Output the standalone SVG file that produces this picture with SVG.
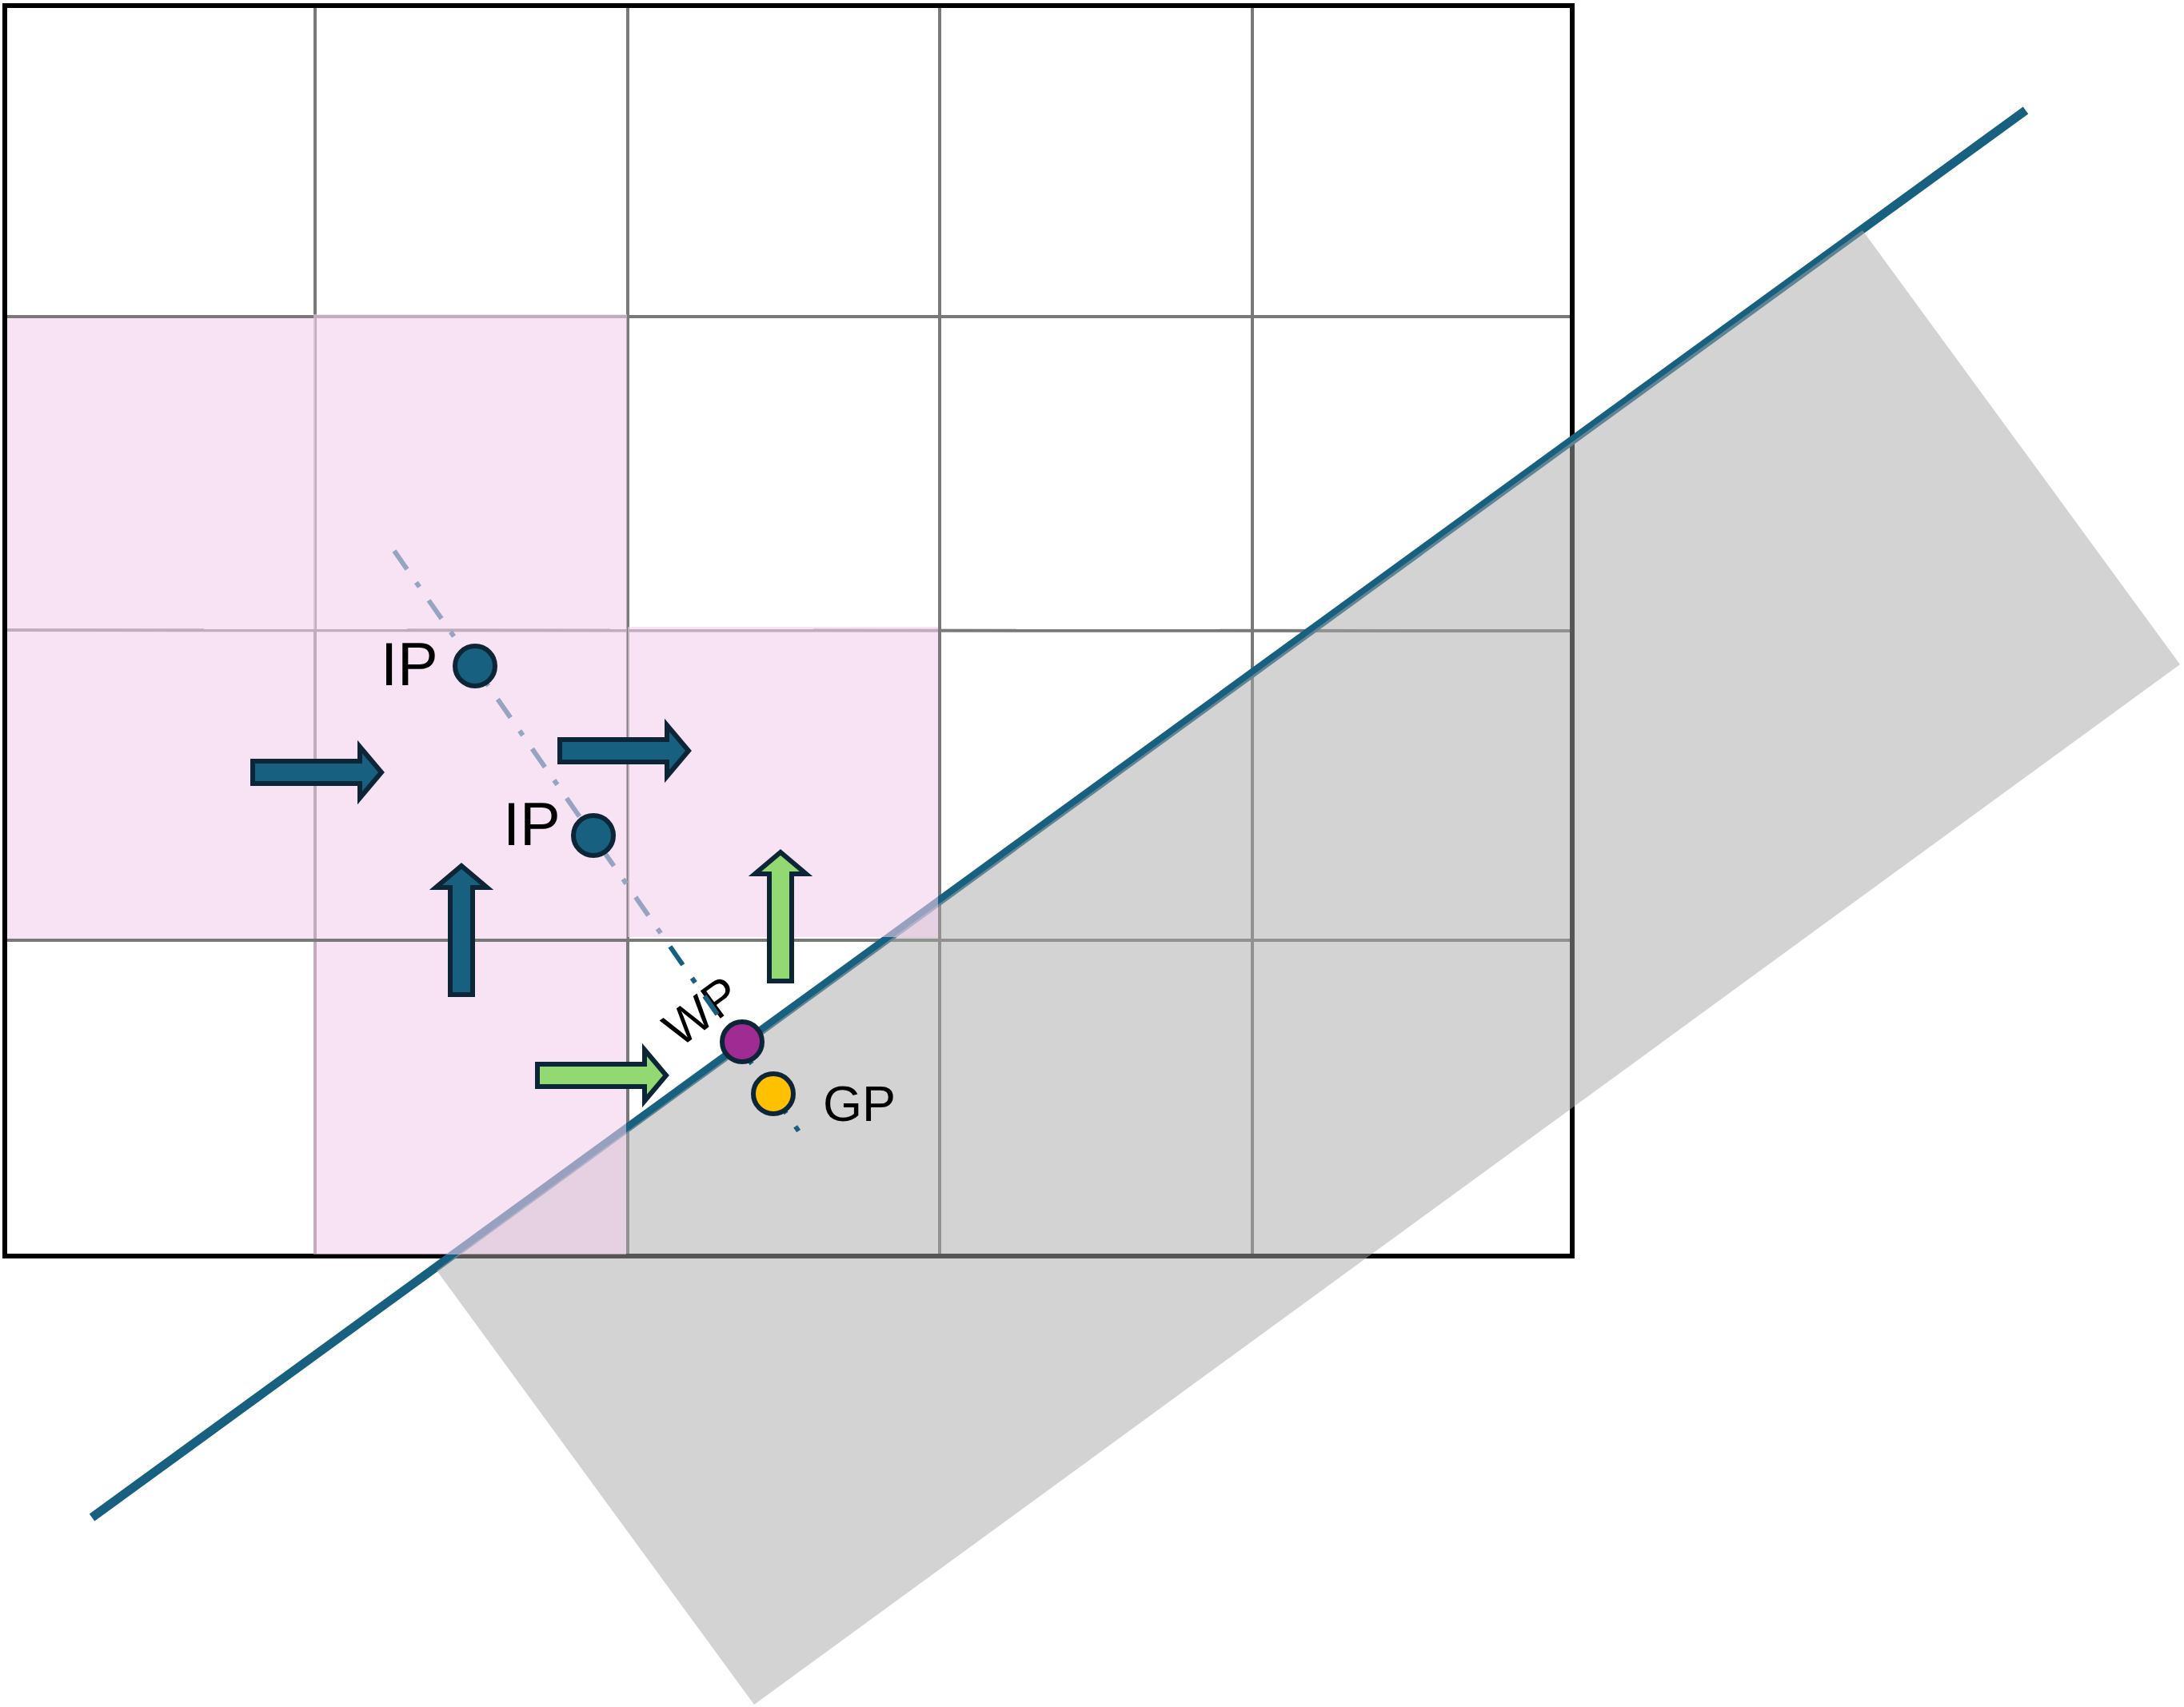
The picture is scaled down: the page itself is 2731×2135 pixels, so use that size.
<svg xmlns="http://www.w3.org/2000/svg" width="2731" height="2135" viewBox="0 0 2731 2135">
  <defs>
    <style>
      .grid { stroke: #797979; stroke-width: 4; fill: none; }
      .border { stroke: #000; stroke-width: 6; fill: none; }
      .pink { fill: #f2d0ec; fill-opacity: 0.59; stroke: none; }
      .arrow { stroke: #0c2537; stroke-width: 6; stroke-linejoin: miter; stroke-miterlimit: 10; }
      .blue { fill: #17607f; }
      .green { fill: #92d873; }
      .pt { stroke: #0c2537; stroke-width: 6; }
      .lbl { font-family: "Liberation Sans", Arial, sans-serif; fill: #000; }
    </style>
    <linearGradient id="dashGrad" gradientUnits="userSpaceOnUse" x1="0" y1="689" x2="0" y2="1418">
      <stop offset="0" stop-color="#96a4c1"/>
      <stop offset="0.6667" stop-color="#96a4c1"/>
      <stop offset="0.6667" stop-color="#17607f"/>
      <stop offset="1" stop-color="#17607f"/>
    </linearGradient>
    <path id="arr" d="M0,-14 H134 V-32 L161,0 L134,32 V14 H0 Z"/>
  </defs>

  <rect x="0" y="0" width="2731" height="2135" fill="#fff"/>

  <g id="grid">
    <line class="grid" x1="394" y1="7" x2="394" y2="1571"/>
    <line class="grid" x1="785" y1="7" x2="785" y2="1571"/>
    <line class="grid" x1="1175" y1="7" x2="1175" y2="1571"/>
    <line class="grid" x1="1566" y1="7" x2="1566" y2="1571"/>
    <line class="grid" x1="6" y1="396" x2="1966" y2="396"/>
    <line class="grid" x1="6" y1="788" x2="1966" y2="789"/>
    <line class="grid" x1="6" y1="1176" x2="1966" y2="1176"/>
    <rect class="border" x="6" y="7" width="1960" height="1564"/>
  </g>

  <g id="connectors">
    <line id="boundary-line" x1="115" y1="1898" x2="2533" y2="138" stroke="#17607f" stroke-width="11"/>
  </g>

  <polygon id="shadow-region" points="2329,288 2726,831 943,2132 546,1589" fill="#a8a8a8" fill-opacity="0.506"/>

  <g id="pink-cells">
    <rect class="pink" x="9" y="398" width="385" height="389"/>
    <rect class="pink" x="392" y="393" width="392" height="394"/>
    <rect class="pink" x="9" y="787" width="775" height="387"/>
    <rect class="pink" x="785" y="784" width="388" height="388"/>
    <rect class="pink" x="392" y="1178" width="391" height="391"/>
  </g>

  <g id="arrows">
    <use href="#arr" class="arrow blue" transform="translate(316,966)"/>
    <use href="#arr" class="arrow blue" transform="translate(700,939)"/>
    <use href="#arr" class="arrow blue" transform="translate(577,1244) rotate(-90)"/>
    <use href="#arr" class="arrow green" transform="translate(976,1227) rotate(-90)"/>
    <use href="#arr" class="arrow green" transform="translate(672,1345)"/>
  </g>

  <g id="labels">
    <text class="lbl" x="476" y="857" font-size="76">IP</text>
    <text class="lbl" x="629" y="1057" font-size="76">IP</text>
    <text class="lbl" font-size="62" text-anchor="middle" x="0" y="22" transform="translate(877,1264) rotate(-36)">WP</text>
    <text class="lbl" x="1029" y="1402" font-size="63">GP</text>
  </g>

  <g id="projection">
    <line x1="493" y1="689" x2="1001" y2="1418" stroke="url(#dashGrad)" stroke-width="6" stroke-dasharray="28 20 7 20.4"/>
  </g>

  <g id="node-ip1">
    <circle class="pt blue" cx="594" cy="833" r="25"/>
  </g>
  <g id="node-ip2">
    <circle class="pt blue" cx="742" cy="1045" r="25"/>
  </g>
  <g id="node-wp">
    <circle class="pt" cx="928" cy="1303" r="25" fill="#a02b93"/>
  </g>
  <g id="node-gp">
    <circle class="pt" cx="967" cy="1368" r="25" fill="#ffc000"/>
  </g>
</svg>
